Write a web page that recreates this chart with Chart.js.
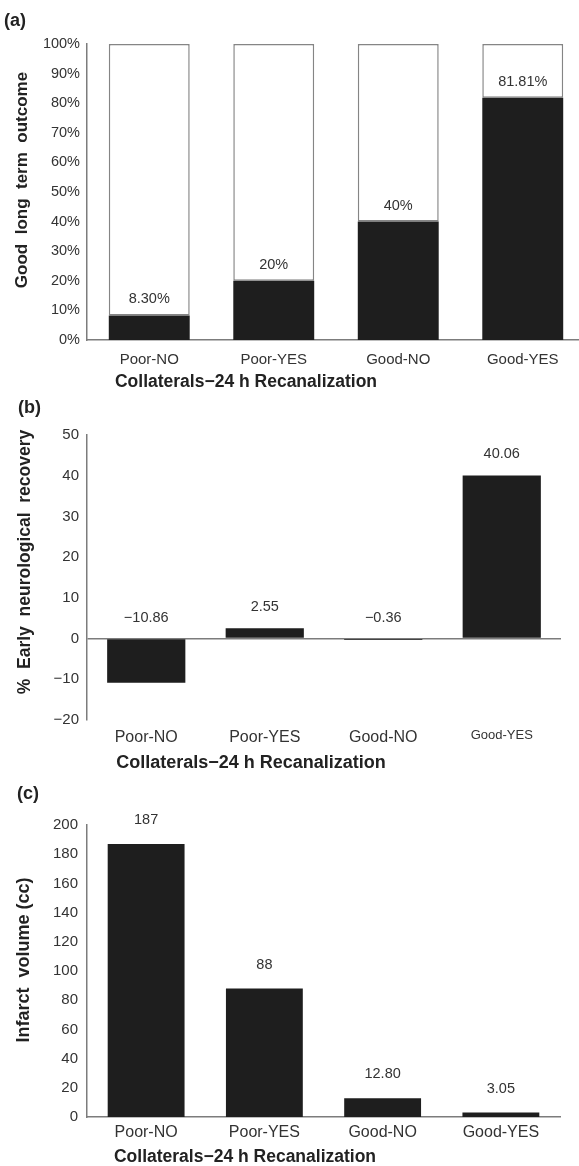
<!DOCTYPE html>
<html>
<head>
<meta charset="utf-8">
<script src="https://cdn.jsdelivr.net/npm/chart.js@4.4.1/dist/chart.umd.min.js"></script>
<style>
  html, body { margin: 0; padding: 0; background: #fff; overflow: hidden; }
  #wrap { position: relative; width: 590px; height: 1166px; }
  canvas { position: absolute; left: 0; }
</style>
</head>
<body>
<div id="wrap">
  <canvas id="panelA" width="590" height="390" style="top:0px"></canvas>
  <canvas id="panelB" width="590" height="385" style="top:390px"></canvas>
  <canvas id="panelC" width="590" height="391" style="top:775px"></canvas>
</div>
<script>
// Groups: collateral status – recanalization at 24 h
const groups = ['Poor-NO', 'Poor-YES', 'Good-NO', 'Good-YES'];

// (a) share of patients with good long-term outcome (%)
const goodOutcome = [8.30, 20, 40, 81.81];
const goodOutcomeDecimals = [2, 0, 0, 2];
const otherOutcome = [91.70, 80, 60, 18.19];
const outcomeTicks = [0, 10, 20, 30, 40, 50, 60, 70, 80, 90, 100];

// (b) early neurological recovery (%)
const earlyRecovery = [-10.86, 2.55, -0.36, 40.06];
const recoveryTicks = [-20, -10, 0, 10, 20, 30, 40, 50];

// (c) infarct volume (cc)
const infarctVolume = [187, 88, 12.80, 3.05];
const infarctDecimals = [0, 0, 2, 2];
const infarctTicks = [0, 20, 40, 60, 80, 100, 120, 140, 160, 180, 200];

const FONT = '"Liberation Sans", Arial, Helvetica, sans-serif';
const BAR = '#1e1e1e';
const AXIS = '#7c7c7c';
const TEXT = '#333333';

function fmt(v, d) {
  const s = Math.abs(v).toFixed(d);
  return v < 0 ? '\u2212' + s : s;
}

// Panel letter, axis titles and value labels
const annotate = {
  id: 'annotate',
  afterDatasetsDraw(chart, args, o) {
    const ctx = chart.ctx;
    const xs = chart.scales.x, ys = chart.scales.y;
    ctx.save();
    ctx.fillStyle = '#222';
    // panel letter
    ctx.font = 'bold 18px ' + FONT;
    ctx.textAlign = 'left';
    ctx.textBaseline = 'middle';
    ctx.fillText(o.letter, o.letterX, o.letterY);
    // x title
    ctx.font = 'bold ' + o.xTitleSize + 'px ' + FONT;
    ctx.textAlign = 'center';
    ctx.fillText(o.xTitle, o.xTitleX, o.xTitleY);
    // y title
    ctx.save();
    ctx.translate(o.yTitleX, o.yTitleY);
    ctx.rotate(-Math.PI / 2);
    ctx.font = 'bold ' + o.yTitleSize + 'px ' + FONT;
    ctx.fillText(o.yTitle, 0, 0);
    ctx.restore();
    // value labels above each bar (or above the zero line for negatives)
    ctx.fillStyle = TEXT;
    ctx.font = '14.5px ' + FONT;
    o.values.forEach((v, i) => {
      const x = xs.getPixelForValue(i);
      const y = ys.getPixelForValue(Math.max(v, 0)) - o.labelOffset;
      ctx.fillText(o.format(v, i), x, y);
    });
    ctx.restore();
  }
};

function fixedLayout(yWidth, xHeight) {
  return {
    y: s => { s.width = yWidth; },
    x: s => { s.height = xHeight; }
  };
}

function tickFromList(list) {
  return {
    afterBuildTicks: s => { s.ticks = list.map(v => ({ value: v })); }
  };
}

// ---------- (a) ----------
{
  const H = 390, top = 44, bottom = 340;
  const fit = fixedLayout(87, H - bottom);
  new Chart(document.getElementById('panelA'), {
    type: 'bar',
    data: {
      labels: groups,
      datasets: [
        { data: goodOutcome, backgroundColor: BAR, borderWidth: 0,
          barPercentage: 0.65, categoryPercentage: 1 },
        { data: otherOutcome, backgroundColor: '#ffffff', borderColor: '#858585',
          borderWidth: 1.5, borderSkipped: false,
          barPercentage: 0.65, categoryPercentage: 1 }
      ]
    },
    options: {
      responsive: false, animation: false, devicePixelRatio: 1,
      layout: { padding: { top: top, right: 5, left: 0, bottom: 0 } },
      plugins: {
        legend: { display: false }, tooltip: { enabled: false },
        annotate: {
          letter: '(a)', letterX: 4, letterY: 21,
          xTitle: 'Collaterals\u221224 h Recanalization', xTitleSize: 17.5, xTitleX: 246, xTitleY: 382,
          yTitle: 'Good  long  term  outcome', yTitleSize: 17, yTitleX: 22, yTitleY: 180,
          values: goodOutcome, labelOffset: 16,
          format: (v, i) => v.toFixed(goodOutcomeDecimals[i]) + '%'
        }
      },
      scales: {
        x: {
          stacked: true, afterFit: fit.x,
          grid: { display: false, drawTicks: false },
          border: { display: true, color: AXIS, width: 1.5 },
          ticks: { color: TEXT, font: { family: FONT, size: 15 }, padding: 11, maxRotation: 0 }
        },
        y: {
          stacked: true, min: 0, max: 100, afterFit: fit.y,
          ...tickFromList(outcomeTicks),
          grid: { display: false, drawTicks: false },
          border: { display: true, color: AXIS, width: 1.5 },
          ticks: { color: TEXT, font: { family: FONT, size: 14.5 }, padding: 7,
                   callback: v => v + '%' }
        }
      }
    },
    plugins: [annotate]
  });
}

// ---------- (b) ----------
{
  const H = 385, top = 45, bottom = 330;
  const fit = fixedLayout(87, H - bottom);
  new Chart(document.getElementById('panelB'), {
    type: 'bar',
    data: {
      labels: groups,
      datasets: [
        { data: earlyRecovery, backgroundColor: BAR, borderWidth: 0,
          barPercentage: 0.66, categoryPercentage: 1 }
      ]
    },
    options: {
      responsive: false, animation: false, devicePixelRatio: 1,
      layout: { padding: { top: top, right: 29, left: 0, bottom: 0 } },
      plugins: {
        legend: { display: false }, tooltip: { enabled: false },
        annotate: {
          letter: '(b)', letterX: 18, letterY: 18,
          xTitle: 'Collaterals\u221224 h Recanalization', xTitleSize: 18, xTitleX: 251, xTitleY: 373,
          yTitle: '%  Early  neurological  recovery', yTitleSize: 17.5, yTitleX: 25, yTitleY: 172,
          values: earlyRecovery, labelOffset: 21,
          format: v => fmt(v, 2)
        }
      },
      scales: {
        x: {
          afterFit: fit.x,
          grid: { display: false, drawTicks: false },
          border: { display: false },
          ticks: { color: TEXT, padding: 8, maxRotation: 0,
                   font: c => ({ family: FONT, size: c.index === 3 ? 13 : 16 }) }
        },
        y: {
          min: -20, max: 50, afterFit: fit.y,
          ...tickFromList(recoveryTicks),
          grid: { drawTicks: false, lineWidth: 1.5,
                  color: c => (c.tick && c.tick.value === 0) ? AXIS : 'rgba(0,0,0,0)' },
          border: { display: true, color: AXIS, width: 1.5 },
          ticks: { color: TEXT, font: { family: FONT, size: 15 }, padding: 8,
                   callback: v => fmt(v, 0) }
        }
      }
    },
    plugins: [annotate]
  });
}

// ---------- (c) ----------
{
  const H = 391, top = 50, bottom = 342;
  const fit = fixedLayout(87, H - bottom);
  new Chart(document.getElementById('panelC'), {
    type: 'bar',
    data: {
      labels: groups,
      datasets: [
        { data: infarctVolume, backgroundColor: BAR, borderWidth: 0,
          barPercentage: 0.65, categoryPercentage: 1 }
      ]
    },
    options: {
      responsive: false, animation: false, devicePixelRatio: 1,
      layout: { padding: { top: top, right: 30, left: 0, bottom: 0 } },
      plugins: {
        legend: { display: false }, tooltip: { enabled: false },
        annotate: {
          letter: '(c)', letterX: 17, letterY: 19,
          xTitle: 'Collaterals\u221224 h Recanalization', xTitleSize: 17.5, xTitleX: 245, xTitleY: 382,
          yTitle: 'Infarct  volume (cc)', yTitleSize: 18, yTitleX: 24, yTitleY: 185,
          values: infarctVolume, labelOffset: 24,
          format: (v, i) => v.toFixed(infarctDecimals[i])
        }
      },
      scales: {
        x: {
          afterFit: fit.x,
          grid: { display: false, drawTicks: false },
          border: { display: true, color: AXIS, width: 1.5 },
          ticks: { color: TEXT, font: { family: FONT, size: 16 }, padding: 6, maxRotation: 0 }
        },
        y: {
          min: 0, max: 200, afterFit: fit.y,
          ...tickFromList(infarctTicks),
          grid: { display: false, drawTicks: false },
          border: { display: true, color: AXIS, width: 1.5 },
          ticks: { color: TEXT, font: { family: FONT, size: 15 }, padding: 9 }
        }
      }
    },
    plugins: [annotate]
  });
}
</script>
</body>
</html>
